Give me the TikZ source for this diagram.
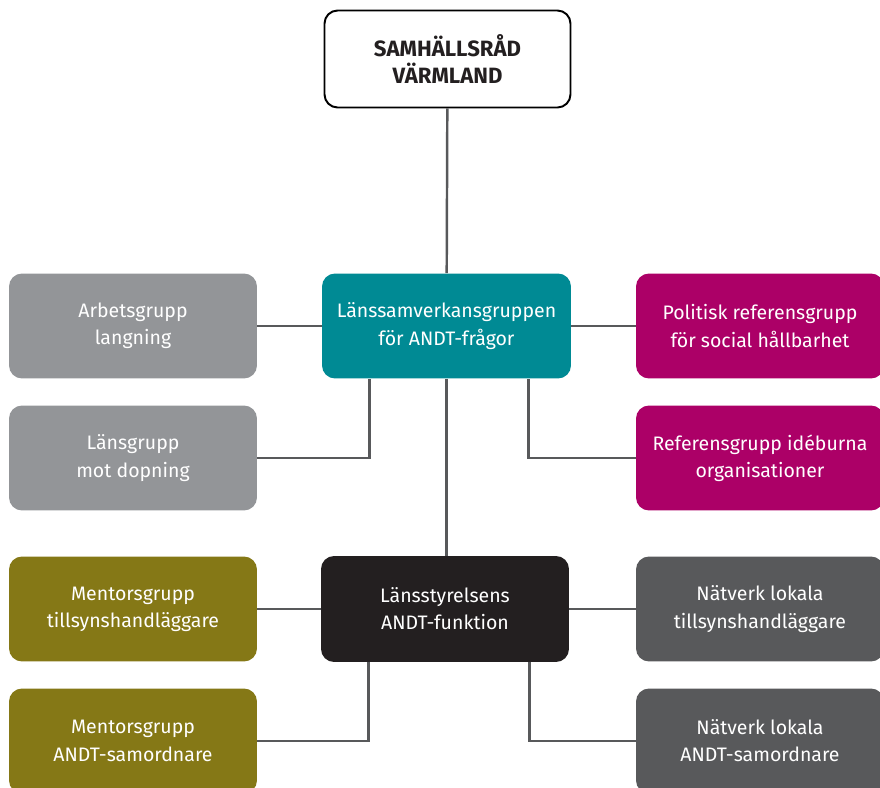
\documentclass[tikz,border=0pt]{standalone}
\usepackage{fontspec}
\setmainfont{Fira Sans}
\usepackage{tikz}

\definecolor{teal}{HTML}{008A94}
\definecolor{magenta}{HTML}{AC0067}
\definecolor{olive}{HTML}{857816}
\definecolor{lightgrey}{HTML}{939598}
\definecolor{darkgrey}{HTML}{58595B}
\definecolor{nearblack}{HTML}{231F20}
\definecolor{linegrey}{HTML}{58595B}

\begin{document}
\begin{tikzpicture}[x=0.02cm, y=-0.02cm,
    box/.style={rounded corners=0.26cm, minimum width=4.96cm, minimum height=2.1cm,
      align=center, text=white, inner sep=0pt, font=\fontsize{11.1}{15.5}\selectfont},
    link/.style={draw=linegrey, line width=1.4pt}]

    \useasboundingbox (0,0) rectangle (880,788);
    \clip (0,0) rectangle (880,788);

    \node[box, draw=black, line width=1.1pt, fill=white, text=nearblack, minimum width=4.92cm, minimum height=1.94cm,
          font=\bfseries\fontsize{12.6}{15}\selectfont]  (sr) at (447.5, 59)  {SAMHÄLLSRÅD\\VÄRMLAND};
    \node[box, fill=teal, minimum width=4.98cm]           (lsg) at (446.5, 326) {Länssamverkansgruppen\\för ANDT-frågor};
    \node[box, fill=nearblack, minimum height=2.12cm]     (lst) at (445, 609)   {Länsstyrelsens\\ANDT-funktion};

    \node[box, fill=lightgrey]  (ag) at (133, 326)  {Arbetsgrupp\\langning};
    \node[box, fill=lightgrey]  (lg) at (133, 458)  {Länsgrupp\\mot dopning};
    \node[box, fill=olive]      (mt) at (133, 609)  {Mentorsgrupp\\tillsynshandläggare};
    \node[box, fill=olive]      (ma) at (133, 741)  {Mentorsgrupp\\ANDT-samordnare};

    \node[box, fill=magenta]    (pr) at (760, 326)  {Politisk referensgrupp\\för social hållbarhet};
    \node[box, fill=magenta]    (ri) at (760, 458)  {Referensgrupp idéburna\\organisationer};
    \node[box, fill=darkgrey]   (nt) at (760, 609)  {Nätverk lokala\\tillsynshandläggare};
    \node[box, fill=darkgrey]   (na) at (760, 741)  {Nätverk lokala\\ANDT-samordnare};

    \draw[link] (sr) -- (lsg);
    \draw[link] (lsg.south) -- (lsg.south |- lst.north);
    \draw[link] (ag) -- (lsg);
    \draw[link] (lsg) -- (pr);
    \draw[link] (lg.east) -| ([xshift=0.96cm]lsg.south west);
    \draw[link] (ri.west) -| ([xshift=-0.86cm]lsg.south east);
    \draw[link] (mt) -- (lst);
    \draw[link] (lst) -- (nt);
    \draw[link] (ma.east) -| ([xshift=0.96cm]lst.south west);
    \draw[link] (na.west) -| ([xshift=-0.8cm]lst.south east);
  \end{tikzpicture}
\end{document}
